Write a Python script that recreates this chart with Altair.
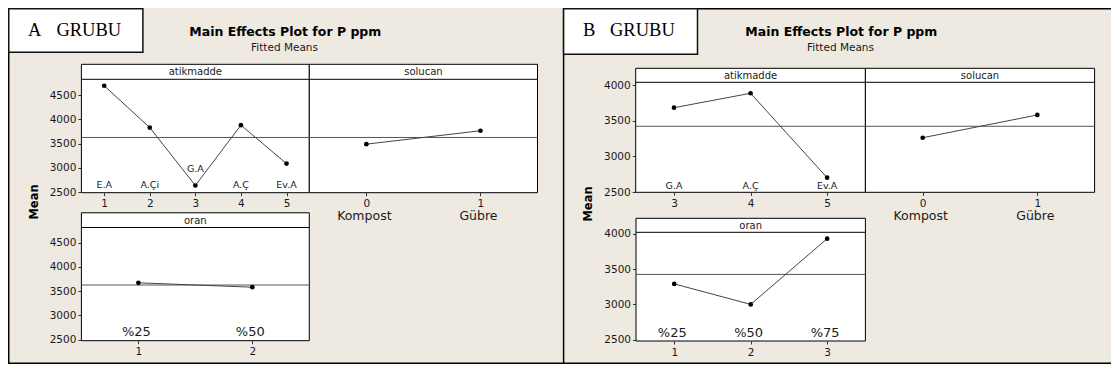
import altair as alt
import pandas as pd

# ---------------- data ----------------
A_atik_codes = [1, 2, 3, 4, 5]
A_atik_names = ["E.A", "A.Çi", "G.A", "A.Ç", "Ev.A"]
A_atik_means = [4690, 3830, 2640, 3880, 3090]
A_sol_codes = [0, 1]
A_sol_names = ["Kompost", "Gübre"]
A_sol_means = [3490, 3765]
A_oran_codes = [1, 2]
A_oran_names = ["%25", "%50"]
A_oran_means = [3672, 3582]
A_grand_mean = 3627
A_y_ticks = [2500, 3000, 3500, 4000, 4500]

B_atik_codes = [3, 4, 5]
B_atik_names = ["G.A", "A.Ç", "Ev.A"]
B_atik_means = [3685, 3888, 2701]
B_sol_codes = [0, 1]
B_sol_names = ["Kompost", "Gübre"]
B_sol_means = [3263, 3583]
B_oran_codes = [1, 2, 3]
B_oran_names = ["%25", "%50", "%75"]
B_oran_means = [3290, 3000, 3930]
B_grand_mean = 3424
B_y_ticks = [2500, 3000, 3500, 4000]

GROUP_NAMES = ["A", "B"]
TITLE = "Main Effects Plot for P ppm"
SUBTITLE = "Fitted Means"
FACTORS = ["atikmadde", "solucan", "oran"]

# ---------------- layout / style ----------------
W, H = 1103, 356
FONT = "DejaVu Sans"
INK = "#1a1a1a"
BEIGE = "#EEEAE1"
one = pd.DataFrame({"k": [0]})


def panel(header, codes, names, means, grand, xr, xdom, yr, ydom, header_cy,
          yticks, kind, label_cy):
    xs = alt.Scale(domain=xdom, range=xr, nice=False, zero=False)
    ys = alt.Scale(domain=ydom, range=yr, nice=False, zero=False)
    df = pd.DataFrame({"code": codes, "label": names, "mean": means})
    L = []
    # frame
    L.append(alt.Chart(one).mark_rect(fill="white", stroke="black", strokeWidth=1).encode(
        x=alt.XDatum(xdom[0], type="quantitative", scale=xs, axis=None),
        x2=alt.X2Datum(xdom[1]),
        y=alt.YDatum(ydom[0], type="quantitative", scale=ys, axis=None),
        y2=alt.Y2Datum(ydom[1])))
    # header strip line and text
    L.append(alt.Chart(one).mark_rule(color="black", strokeWidth=1).encode(
        x=alt.XDatum(xdom[0], type="quantitative", scale=xs, axis=None),
        x2=alt.X2Datum(xdom[1]),
        y=alt.value(header_cy)))
    top = yr[1]
    L.append(alt.Chart(one).mark_text(text=header, font=FONT, fontSize=10, color=INK,
                                      baseline="middle", align="center").encode(
        x=alt.XDatum((xdom[0] + xdom[1]) / 2, type="quantitative", scale=xs, axis=None),
        y=alt.value((top + header_cy) / 2 + 0.5)))
    # grand mean line
    L.append(alt.Chart(one).mark_rule(color="#555555", strokeWidth=1).encode(
        x=alt.XDatum(xdom[0], type="quantitative", scale=xs, axis=None),
        x2=alt.X2Datum(xdom[1]),
        y=alt.YDatum(grand, type="quantitative", scale=ys, axis=None)))
    # axes carried by the line layer
    xaxis = alt.Axis(values=codes, format="d", orient="bottom", offset=yr[0] - H,
                     domain=False, grid=False, title=None, tickSize=3, tickColor="#333",
                     labelPadding=3, labelFont=FONT, labelFontSize=10.5, labelColor=INK,
                     labelFlush=False, labelOverlap=False)
    if yticks:
        yaxis = alt.Axis(values=yticks, format="d", orient="left", offset=-xr[0],
                         domain=False, grid=False, title=None, tickSize=3.5, tickColor="#333",
                         labelPadding=2, labelFont=FONT, labelFontSize=10.5, labelColor=INK,
                         labelFlush=False, labelOverlap=False)
    else:
        yaxis = None
    L.append(alt.Chart(df).mark_line(color="#444444", strokeWidth=1).encode(
        x=alt.X("code:Q", scale=xs, axis=xaxis),
        y=alt.Y("mean:Q", scale=ys, axis=yaxis)))
    L.append(alt.Chart(df).mark_circle(color="black", size=22, opacity=1).encode(
        x=alt.X("code:Q", scale=xs, axis=None),
        y=alt.Y("mean:Q", scale=ys, axis=None)))
    # level labels
    if kind == "inside":
        thr = ydom[0] + 10 * (ydom[1] - ydom[0]) / (yr[0] - yr[1])
        L.append(alt.Chart(df).transform_filter(alt.datum["mean"] >= thr).mark_text(
            font=FONT, fontSize=9.5, color=INK, baseline="middle").encode(
            x=alt.X("code:Q", scale=xs, axis=None), y=alt.value(label_cy), text="label:N"))
        L.append(alt.Chart(df).transform_filter(alt.datum["mean"] < thr).mark_text(
            font=FONT, fontSize=9.5, color=INK, baseline="middle", dy=-16).encode(
            x=alt.X("code:Q", scale=xs, axis=None),
            y=alt.Y("mean:Q", scale=ys, axis=None), text="label:N"))
    elif kind == "big":
        L.append(alt.Chart(df).mark_text(font=FONT, fontSize=13, color=INK,
                                         baseline="middle", dx=-2).encode(
            x=alt.X("code:Q", scale=xs, axis=None), y=alt.value(label_cy), text="label:N"))
    elif kind == "below":
        L.append(alt.Chart(df).mark_text(font=FONT, fontSize=12.5, color=INK,
                                         baseline="middle", dx=-2).encode(
            x=alt.X("code:Q", scale=xs, axis=None), y=alt.value(label_cy), text="label:N"))
    return L


layers = []
# ---- decorations (group frames, boxes, titles) ----
def rule(x, x2, y, y2):
    return alt.Chart(one).mark_rule(color="black", strokeWidth=1.5).encode(
        x=alt.value(x), x2=alt.value(x2), y=alt.value(y), y2=alt.value(y2))

layers += [
    rule(0.75, 0.75, 44, H),
    rule(0, 555.6, H - 0.75, H - 0.75),
    rule(555.6, 555.6, 0, H),
    rule(555.6, W, 0.75, 0.75),
    rule(555.6, W, H - 0.75, H - 0.75),
]
for gx0, gx1, gy1, gname, lx, gxr, tcx, scx, mx, my in [
    (0.75, 134.9, 44.3, GROUP_NAMES[0], 19.9, 48.4, 277.3, 276.5, 26.5, 194),
    (555.6, 689.5, 46.3, GROUP_NAMES[1], 575, 602, 833.3, 832.5, 581, 196),
]:
    layers.append(alt.Chart(one).mark_rect(fill="white", stroke="#111", strokeWidth=1.5).encode(
        x=alt.value(gx0), x2=alt.value(gx1), y=alt.value(0.75), y2=alt.value(gy1)))
    layers.append(alt.Chart(one).mark_text(text=gname, font="Liberation Serif", fontSize=18.5,
                                           color="black", align="left", baseline="alphabetic").encode(
        x=alt.value(lx), y=alt.value(27.5)))
    layers.append(alt.Chart(one).mark_text(text="GRUBU", font="Liberation Serif", fontSize=18.5,
                                           color="black", align="left", baseline="alphabetic").encode(
        x=alt.value(gxr), y=alt.value(27.5)))
    layers.append(alt.Chart(one).mark_text(text=TITLE, font=FONT, fontSize=12.5, fontWeight="bold",
                                           color="black", align="center", baseline="alphabetic").encode(
        x=alt.value(tcx), y=alt.value(27.5)))
    layers.append(alt.Chart(one).mark_text(text=SUBTITLE, font=FONT, fontSize=10.5,
                                           color=INK, align="center", baseline="alphabetic").encode(
        x=alt.value(scx), y=alt.value(42.5)))
    layers.append(alt.Chart(one).mark_text(text="Mean", font=FONT, fontSize=11.5, fontWeight="bold",
                                           color="black", align="center", baseline="middle",
                                           angle=270).encode(
        x=alt.value(mx), y=alt.value(my)))

# ---- panels ----
layers += panel(FACTORS[0], A_atik_codes, A_atik_names, A_atik_means, A_grand_mean,
                [73.4, 301.3], [0.5, 5.5], [184.7, 56.3], [2492, 5131], 71.3,
                A_y_ticks, "inside", 177)
layers += panel(FACTORS[1], A_sol_codes, A_sol_names, A_sol_means, A_grand_mean,
                [301.3, 529.5], [-0.5, 1.5], [184.7, 56.3], [2492, 5131], 71.3,
                None, "below", 208)
layers += panel(FACTORS[2], A_oran_codes, A_oran_names, A_oran_means, A_grand_mean,
                [73.4, 301.3], [0.5, 2.5], [332.7, 204.8], [2479, 5116], 219.5,
                A_y_ticks, "big", 324.3)
layers += panel(FACTORS[0], B_atik_codes, B_atik_names, B_atik_means, B_grand_mean,
                [627.7, 857.4], [2.5, 5.5], [184.3, 60.3], [2496, 4239], 74.3,
                B_y_ticks, "inside", 177.7)
layers += panel(FACTORS[1], B_sol_codes, B_sol_names, B_sol_means, B_grand_mean,
                [857.4, 1086.6], [-0.5, 1.5], [184.3, 60.3], [2496, 4239], 74.3,
                None, "below", 208)
layers += panel(FACTORS[2], B_oran_codes, B_oran_names, B_oran_means, B_grand_mean,
                [628, 857.4], [0.5, 3.5], [333, 210.3], [2482, 4218], 224.3,
                B_y_ticks, "big", 324.7)

chart = alt.layer(*layers).resolve_scale(x="independent", y="independent").properties(
    width=W, height=H, padding=0, autosize=alt.AutoSizeParams(type="none")
).configure(background=BEIGE).configure_view(stroke=None)

chart.save("out.html", embed_options={"renderer": "svg", "actions": False})
